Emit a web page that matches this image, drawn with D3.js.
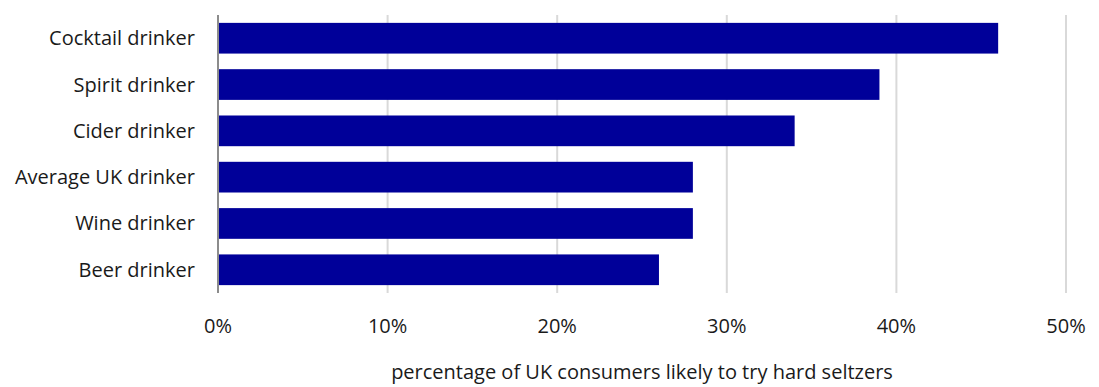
<!DOCTYPE html>
<html>
<head>
<meta charset="utf-8">
<script src="https://cdn.jsdelivr.net/npm/d3@7"></script>
<style>
  body { margin: 0; background: #fff; }
  text { font-family: "Open Sans", sans-serif; fill: #1a1a1a; }
</style>
</head>
<body>
<svg width="1099" height="387"></svg>
<script>
// data
var categories = ["Cocktail drinker", "Spirit drinker", "Cider drinker", "Average UK drinker", "Wine drinker", "Beer drinker"];
var values = [46, 39, 34, 28, 28, 26];
var ticks = [0, 10, 20, 30, 40, 50];
var axisTitle = "percentage of UK consumers likely to try hard seltzers";

var svg = d3.select("svg");
var plotLeft = 218, plotRight = 1066, plotTop = 15, plotBottom = 293;

var x = d3.scaleLinear().domain([0, 50]).range([plotLeft, plotRight]);
var y = d3.scaleBand().domain(categories).range([plotTop, plotBottom]).paddingInner(0.337).paddingOuter(0.17);

// grid
svg.append("g").selectAll("line").data(ticks.slice(1)).enter().append("line")
  .attr("x1", d => x(d)).attr("x2", d => x(d))
  .attr("y1", plotTop).attr("y2", plotBottom)
  .attr("stroke", "#d9d9d9").attr("stroke-width", 2);

// bars
svg.append("g").selectAll("rect").data(categories).enter().append("rect")
  .attr("x", x(0))
  .attr("y", d => y(d))
  .attr("width", (d, i) => x(values[i]) - x(0))
  .attr("height", y.bandwidth())
  .attr("fill", "#000099");

// y axis line
svg.append("line")
  .attr("x1", x(0)).attr("x2", x(0)).attr("y1", plotTop).attr("y2", plotBottom)
  .attr("stroke", "#8c8c8c").attr("stroke-width", 2);

// category labels
svg.append("g").selectAll("text").data(categories).enter().append("text")
  .attr("x", 195)
  .attr("y", d => y(d) + y.bandwidth() / 2)
  .attr("dy", "0.35em")
  .attr("text-anchor", "end")
  .style("font-size", "20px")
  .text(d => d);

// tick labels
svg.append("g").selectAll("text").data(ticks).enter().append("text")
  .attr("x", d => x(d))
  .attr("y", 326)
  .attr("dy", "0.35em")
  .attr("text-anchor", "middle")
  .style("font-size", "20px")
  .text(d => d + "%");

svg.append("text")
  .attr("x", (plotLeft + plotRight) / 2)
  .attr("y", 372)
  .attr("dy", "0.35em")
  .attr("text-anchor", "middle")
  .style("font-size", "20px")
  .text(axisTitle);
</script>
</body>
</html>
